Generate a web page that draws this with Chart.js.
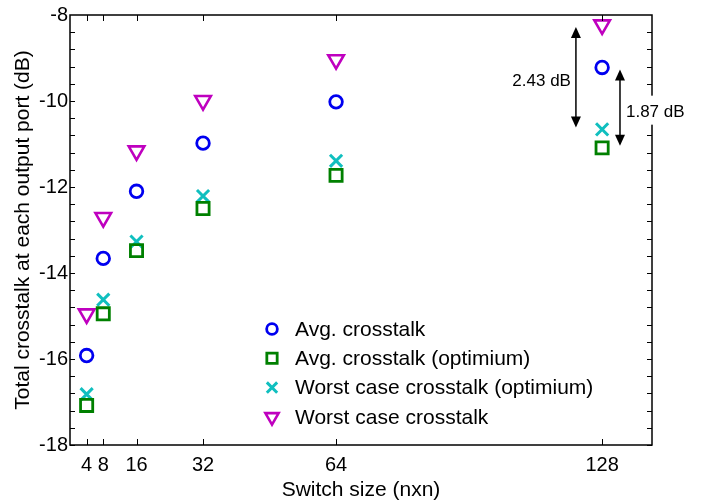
<!DOCTYPE html>
<html>
<head>
<meta charset="utf-8">
<script src="https://cdn.jsdelivr.net/npm/chart.js@4.4.0/dist/chart.umd.min.js"></script>
<style>
  html, body { margin: 0; padding: 0; background: #fff; }
</style>
</head>
<body>
<canvas id="myChart" width="702" height="504"></canvas>
<script>
// data
const sizes = [4, 8, 16, 32, 64, 128];
const avgCrosstalk = [-15.92, -13.66, -12.10, -10.98, -10.02, -9.22];
const avgOptimium = [-17.08, -14.95, -13.48, -12.50, -11.73, -11.09];
const worstOptimium = [-16.82, -14.62, -13.27, -12.21, -11.39, -10.66];
const worstCrosstalk = [-14.95, -12.71, -11.16, -9.99, -9.04, -8.23];
const xTicks = [4, 8, 16, 32, 64, 128];
const yTicks = [-18, -16, -14, -12, -10, -8];
const gapLabels = ["2.43 dB", "1.87 dB"];

const FONT = "'Liberation Sans', Arial, sans-serif";
Chart.defaults.color = "#000";
Chart.defaults.font.family = FONT;

const toPoints = ys => sizes.map((x, i) => ({ x: x, y: ys[i] }));

// frame with inward ticks, the two gap arrows, and the inset legend
const decorations = {
  id: "decorations",
  afterDraw(chart) {
    const ctx = chart.ctx;
    const a = chart.chartArea;
    const xs = chart.scales.x, ys = chart.scales.y;
    ctx.save();
    ctx.strokeStyle = "#000";
    ctx.lineWidth = 1.5;
    ctx.strokeRect(a.left, a.top, a.right - a.left, a.bottom - a.top);

    ctx.lineWidth = 1;
    ctx.beginPath();
    xTicks.forEach(v => {
      const px = Math.round(xs.getPixelForValue(v)) + 0.5;
      ctx.moveTo(px, a.bottom); ctx.lineTo(px, a.bottom - 6);
      ctx.moveTo(px, a.top); ctx.lineTo(px, a.top + 6);
    });
    for (let v = -18; v <= -8.001; v += 0.4) {
      const py = Math.round(ys.getPixelForValue(v)) + 0.5;
      ctx.moveTo(a.left, py); ctx.lineTo(a.left + 5, py);
      ctx.moveTo(a.right, py); ctx.lineTo(a.right - 5, py);
    }
    ctx.stroke();

    // double arrows at 128
    const arrow = (xv, y1, y2) => {
      const px = xs.getPixelForValue(xv);
      const p1 = ys.getPixelForValue(y1) + 2, p2 = ys.getPixelForValue(y2) - 2;
      ctx.lineWidth = 1.5;
      ctx.beginPath(); ctx.moveTo(px, p1 + 8); ctx.lineTo(px, p2 - 8); ctx.stroke();
      ctx.fillStyle = "#000";
      ctx.beginPath(); ctx.moveTo(px, p1); ctx.lineTo(px - 5, p1 + 11); ctx.lineTo(px + 5, p1 + 11); ctx.closePath(); ctx.fill();
      ctx.beginPath(); ctx.moveTo(px, p2); ctx.lineTo(px - 5, p2 - 11); ctx.lineTo(px + 5, p2 - 11); ctx.closePath(); ctx.fill();
      return { px: px, mid: (p1 + p2) / 2 };
    };
    const left = arrow(121.7, worstCrosstalk[5], worstOptimium[5]);
    const right = arrow(132.3, avgCrosstalk[5], avgOptimium[5]);
    ctx.font = "17px " + FONT;
    ctx.textBaseline = "middle";
    ctx.textAlign = "right";
    ctx.fillText(gapLabels[0], left.px - 5, left.mid + 4);
    const w = ctx.measureText(gapLabels[1]).width;
    ctx.fillStyle = "#fff";
    ctx.fillRect(right.px + 4, right.mid - 12, w + 6, 29);
    ctx.fillStyle = "#000";
    ctx.textAlign = "left";
    ctx.fillText(gapLabels[1], right.px + 6, right.mid + 5);

    // legend inside the plot
    ctx.font = "21px " + FONT;
    chart.data.datasets.forEach((ds, i) => {
      const y = 329 + i * 29.3;
      ctx.strokeStyle = ds.borderColor;
      ctx.fillStyle = "rgba(0,0,0,0)";
      ctx.lineWidth = ds.borderWidth;
      Chart.helpers.drawPoint(ctx, {
        pointStyle: ds.pointStyle, radius: ds.pointRadius * 0.85,
        rotation: ds.pointRotation || 0, borderWidth: ds.borderWidth
      }, 272, y);
      ctx.fillStyle = "#000";
      ctx.fillText(ds.label, 295, y + 1);
    });
    ctx.restore();
  }
};

new Chart(document.getElementById("myChart").getContext("2d"), {
  type: "scatter",
  data: {
    datasets: [
      { label: "Avg. crosstalk", data: toPoints(avgCrosstalk), pointStyle: "circle",
        pointRadius: 6.3, borderColor: "#0000f0", backgroundColor: "rgba(0,0,0,0)", borderWidth: 2.8 },
      { label: "Avg. crosstalk (optimium)", data: toPoints(avgOptimium), pointStyle: "rect",
        pointRadius: 8.6, borderColor: "#008000", backgroundColor: "rgba(0,0,0,0)", borderWidth: 2.8 },
      { label: "Worst case crosstalk (optimium)", data: toPoints(worstOptimium), pointStyle: "crossRot",
        pointRadius: 8.6, borderColor: "#10bfbf", backgroundColor: "rgba(0,0,0,0)", borderWidth: 3 },
      { label: "Worst case crosstalk", data: toPoints(worstCrosstalk), pointStyle: "triangle",
        pointRotation: 180, pointRadius: 9, borderColor: "#bf00bf", backgroundColor: "rgba(0,0,0,0)", borderWidth: 2.6 }
    ]
  },
  options: {
    responsive: false,
    animation: false,
    events: [],
    layout: { padding: { top: 15, right: 50, left: 0, bottom: 0 } },
    plugins: { legend: { display: false }, tooltip: { enabled: false } },
    scales: {
      x: {
        type: "linear", min: 0, max: 140,
        grid: { display: false, drawTicks: false },
        border: { display: false },
        afterBuildTicks: s => { s.ticks = xTicks.map(v => ({ value: v })); },
        afterFit: s => { s.height = 59; },
        ticks: { padding: 8, font: { size: 20 }, maxRotation: 0, autoSkip: false },
        title: { display: true, text: "Switch size (nxn)", font: { size: 21 }, padding: { top: 0, bottom: 1 } }
      },
      y: {
        min: -18, max: -8,
        grid: { display: false, drawTicks: false },
        border: { display: false },
        afterBuildTicks: s => { s.ticks = yTicks.map(v => ({ value: v })); },
        afterFit: s => { s.width = 70; },
        ticks: { padding: 2, font: { size: 20 } },
        title: { display: true, text: "Total crosstalk at each output port (dB)", font: { size: 21 }, padding: { top: 11, bottom: 0 } }
      }
    }
  },
  plugins: [decorations]
});
</script>
</body>
</html>
